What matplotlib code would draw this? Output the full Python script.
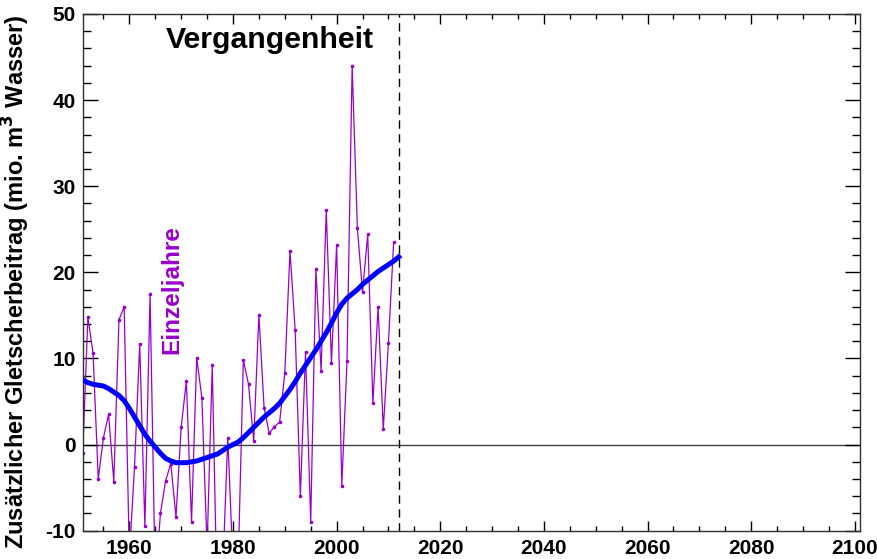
import matplotlib
matplotlib.use('Agg')
import matplotlib.pyplot as plt
import numpy as np
from matplotlib.ticker import MultipleLocator

plt.rcParams['font.family'] = ['Liberation Sans', 'DejaVu Sans']
plt.rcParams['font.weight'] = 'bold'
plt.rcParams['axes.unicode_minus'] = False

# yearly values (mio. m3 water)
years = np.arange(1951, 2012)
single = [-1.0, 14.8, 10.6, -4.0, 0.8, 3.5, -4.3, 14.5, 16.0, -13.0,
          -2.6, 11.7, -9.5, 17.5, -16.0, -8.0, -4.2, -2.2, -8.4, 2.0,
          7.4, -9.0, 10.1, 5.4, -12.0, 9.2, -20.0, -15.0, 0.8, -14.0,
          -14.0, 9.8, 7.0, 0.4, 15.1, 4.3, 1.3, 2.1, 2.6, 8.3,
          22.5, 13.3, -6.0, 10.8, -9.0, 20.4, 8.6, 27.2, 9.5, 23.2,
          -4.8, 9.7, 44.0, 25.2, 17.7, 24.4, 4.8, 16.0, 1.8, 11.8,
          23.5]

# smoothed curve
smooth_years = np.arange(1951, 2013)
smooth = [7.5, 7.2, 7.0, 6.9, 6.8, 6.5, 6.1, 5.7, 5.1, 4.2,
          3.2, 2.2, 1.2, 0.4, -0.3, -1.0, -1.6, -1.9, -2.1, -2.1,
          -2.1, -2.0, -1.9, -1.7, -1.5, -1.3, -1.1, -0.7, -0.3, 0.0,
          0.3, 0.8, 1.4, 2.0, 2.6, 3.2, 3.7, 4.2, 4.8, 5.6,
          6.4, 7.3, 8.3, 9.2, 10.1, 11.0, 12.0, 13.0, 14.1, 15.3,
          16.3, 17.0, 17.5, 18.0, 18.6, 19.1, 19.6, 20.1, 20.5, 20.9,
          21.3, 21.8]

fig = plt.figure(figsize=(8.78, 5.59), dpi=100)
ax = fig.add_axes([0.0942, 0.0506, 0.8853, 0.9244])

ax.axhline(0, color='#404040', lw=1.0, zorder=1)
ax.axvline(2012, color='black', lw=1.0, ls=(0, (6, 4)), zorder=1)

ax.plot(years, single, color='#9900cc', lw=0.9, marker='o', ms=1.6, zorder=2)
ax.plot(smooth_years, smooth, color='#0000ff', lw=3.6, zorder=3)

ax.set_xlim(1951, 2101)
ax.set_ylim(-10, 50)
ax.xaxis.set_major_locator(MultipleLocator(20))
ax.xaxis.set_minor_locator(MultipleLocator(5))
ax.yaxis.set_major_locator(MultipleLocator(10))
ax.yaxis.set_minor_locator(MultipleLocator(2))

ax.tick_params(axis='both', which='both', direction='in', top=True, right=True,
               labelsize=15, width=1.0)
ax.tick_params(axis='x', which='major', length=7, pad=6)
ax.tick_params(axis='x', which='minor', length=3.5)
ax.tick_params(axis='y', which='major', length=11, pad=5)
ax.tick_params(axis='y', which='minor', length=6)
for lab in ax.get_xticklabels() + ax.get_yticklabels():
    lab.set_fontweight('bold')
for sp in ax.spines.values():
    sp.set_color('#303030')
    sp.set_linewidth(1.0)

ax.set_ylabel('Zusätzlicher Gletscherbeitrag (mio. m$^\\mathbf{3}$ Wasser)',
              fontsize=17.0, fontweight='bold')
ax.yaxis.set_label_coords(-0.065, 0.482)

ax.text(1987.1, 47.0, 'Vergangenheit', fontsize=21.8, fontweight='bold',
        ha='center', va='center', color='black')
ax.text(1968.2, 18.0, 'Einzeljahre', fontsize=17.5, fontweight='bold',
        ha='center', va='center', rotation=90, color='#9900cc')

fig.savefig('out.png', dpi=100)
